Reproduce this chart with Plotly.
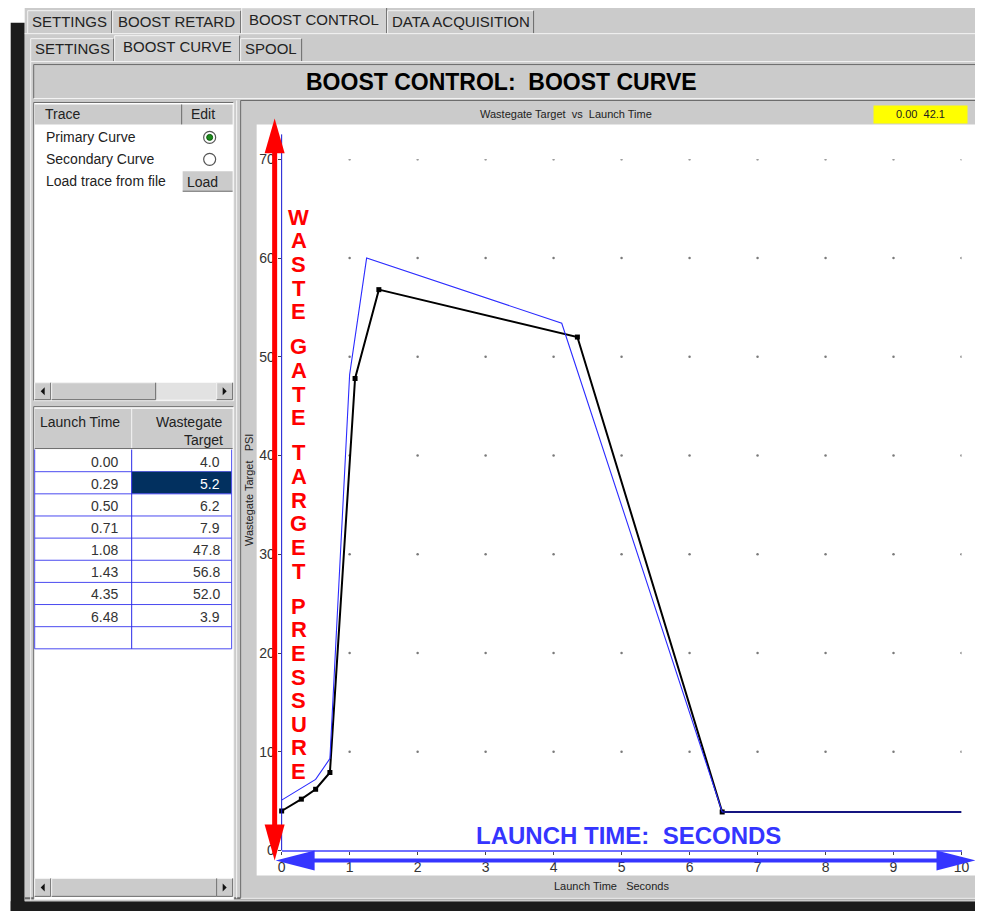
import numpy as np
import plotly.graph_objects as go

# The photographed page is offset and very slightly scaled relative to the
# figure, so layout positions are given in screenshot pixels and mapped back.
SX, BX = 0.988, 11.3
SY, BY = 0.985, 15.3
W, H = 983, 909
UI_FONT = "Liberation Sans, Arial, sans-serif"

# primary curve = the table on the left
launch_time = [0.00, 0.29, 0.50, 0.71, 1.08, 1.43, 4.35, 6.48]
wastegate_target = [4.0, 5.2, 6.2, 7.9, 47.8, 56.8, 52.0, 3.9]

# secondary curve
secondary_time = [0.00, 0.29, 0.50, 0.71, 1.00, 1.25, 4.12, 6.48, 10.0]
secondary_psi = [5.1, 6.3, 7.2, 9.3, 48.2, 60.0, 53.4, 3.9, 3.9]

x_ticks = list(range(0, 11))
y_ticks = list(range(0, 71, 10))

cursor_readout = ["0.00", "42.1"]
selected_row = 1

top_tabs = ["SETTINGS", "BOOST RETARD", "BOOST CONTROL", "DATA ACQUISITION"]
sub_tabs = ["SETTINGS", "BOOST CURVE", "SPOOL"]
trace_rows = ["Primary Curve", "Secondary Curve", "Load trace from file"]
y_arrow_words = ["WASTE", "GATE", "TARGET", "PRESSURE"]
x_arrow_label = "LAUNCH TIME:\u00a0\u00a0SECONDS"

GREY = "#cbcbcb"
DARK = "#6a6a6a"
LIGHT = "#f4f4f4"

shapes, annotations = [], []


def fx(p):
    return (p - BX) / SX / W


def fy(p):
    return 1 - (p - BY) / SY / H


def rect(x0, y0, x1, y1, fill, line=None, width=1, layer="below"):
    shapes.append(dict(type="rect", xref="paper", yref="paper",
                       x0=fx(x0), x1=fx(x1), y0=fy(y1), y1=fy(y0),
                       fillcolor=fill, layer=layer,
                       line=dict(color=line or fill, width=width if line else 0)))


def seg(x0, y0, x1, y1, color, width=1, layer="below"):
    shapes.append(dict(type="line", xref="paper", yref="paper",
                       x0=fx(x0), y0=fy(y0), x1=fx(x1), y1=fy(y1),
                       line=dict(color=color, width=width), layer=layer))


def poly(points, color, layer="above"):
    path = "M " + " L ".join(f"{fx(x):.5f},{fy(y):.5f}" for x, y in points) + " Z"
    shapes.append(dict(type="path", xref="paper", yref="paper", path=path,
                       fillcolor=color, line=dict(color=color, width=0), layer=layer))


def bevel(x0, y0, x1, y1, light=LIGHT, dark=DARK):
    seg(x0, y0, x1, y0, light)
    seg(x0, y0, x0, y1, light)
    seg(x0, y1, x1, y1, dark)
    seg(x1, y0, x1, y1, dark)


def text(x, y, s, size=14, color="#222", xanchor="center", bold=False,
         family=UI_FONT, angle=0):
    annotations.append(dict(xref="paper", yref="paper", x=fx(x), y=fy(y),
                            text=f"<b>{s}</b>" if bold else s, showarrow=False,
                            xanchor=xanchor, yanchor="middle", textangle=angle,
                            font=dict(size=size, color=color, family=family)))


def scrollbar(x0, x1, y0, y1, thumb_end):
    rect(x0, y0, x1, y1, "#e2e2e2")
    for bx0, bx1, left in [(x0, x0 + 16, True), (x1 - 16, x1, False)]:
        rect(bx0, y0, bx1, y1, GREY)
        bevel(bx0, y0, bx1, y1)
        cx, cy = (bx0 + bx1) / 2, (y0 + y1) / 2
        d = -1 if left else 1
        poly([(cx - 2 * d, cy - 4), (cx + 2 * d, cy), (cx - 2 * d, cy + 4)], "#111", layer="below")
    rect(x0 + 17, y0, thumb_end, y1, GREY)
    bevel(x0 + 17, y0, thumb_end, y1)


# ---------- window chrome ----------
rect(10, 22, 24, 915, "#1c1c1c")
rect(10, 903, 990, 915, "#1c1c1c")
rect(24, 5, 990, 903, GREY)
seg(24, 900, 990, 900, DARK, 2)

# top tab row
top_edges = [27, 112, 241, 387, 534]
for i, name in enumerate(top_tabs):
    active = name == "BOOST CONTROL"
    x0, x1 = top_edges[i], top_edges[i + 1] - 1
    y0 = 7 if active else 10
    rect(x0, y0, x1, 33, "#d2d2d2" if active else GREY)
    seg(x0, y0, x1, y0, LIGHT)
    seg(x0, y0, x0, 33, LIGHT)
    seg(x1, y0, x1, 33, DARK)
    text((x0 + x1) / 2, 21 if not active else 19, name, size=15)
seg(24, 33, 990, 33, LIGHT)

# sub tab row
sub_edges = [30, 114, 240, 302]
for i, name in enumerate(sub_tabs):
    active = name == "BOOST CURVE"
    x0, x1 = sub_edges[i], sub_edges[i + 1] - 1
    y0 = 35 if active else 38
    rect(x0, y0, x1, 61, "#d2d2d2" if active else GREY)
    seg(x0, y0, x1, y0, LIGHT)
    seg(x0, y0, x0, 61, LIGHT)
    seg(x1, y0, x1, 61, DARK)
    text((x0 + x1) / 2, 48 if not active else 46, name, size=15)
seg(30, 61, 990, 61, LIGHT)
seg(30, 61, 30, 902, LIGHT)

# header box
rect(33, 64, 980, 98, GREY)
bevel(33, 64, 980, 98, light=DARK, dark=LIGHT)
text(501, 81, "BOOST CONTROL:\u00a0\u00a0BOOST CURVE", size=23, color="#000", bold=True)

# ---------- left panel: trace list ----------
rect(33, 102, 233, 401, "white")
bevel(33, 102, 233, 401, light=DARK, dark=LIGHT)
rect(34, 104, 232, 124, GREY)
seg(181, 104, 181, 124, DARK)
text(42, 114, "Trace", xanchor="left")
text(188, 114, "Edit", xanchor="left")
for i, row in enumerate(trace_rows):
    ry = 137 + 22 * i
    text(43, ry, row, xanchor="left")
    if i < 2:
        shapes.append(dict(type="circle", xref="paper", yref="paper",
                           x0=fx(203), x1=fx(215), y0=fy(ry + 6), y1=fy(ry - 6),
                           fillcolor="white", line=dict(color="#555", width=1.2), layer="below"))
        if i == 0:
            shapes.append(dict(type="circle", xref="paper", yref="paper",
                               x0=fx(206), x1=fx(212), y0=fy(ry + 3), y1=fy(ry - 3),
                               fillcolor="#1c8a1c", line=dict(color="#0a5a0a", width=1), layer="below"))
    else:
        rect(182, ry - 10, 232, ry + 10, GREY)
        seg(182, ry + 10, 232, ry + 10, DARK)
        text(184, ry + 1, "Load", xanchor="left")
scrollbar(34, 232, 383, 400, 155)

# ---------- left panel: table ----------
rect(33, 407, 233, 901, "white")
bevel(33, 407, 233, 901, light=DARK, dark=LIGHT)
rect(34, 409, 232, 449, GREY)
seg(131, 409, 131, 449, LIGHT)
seg(34, 449, 232, 449, DARK)
text(37, 422, "Launch Time", xanchor="left")
text(224, 422, "Wastegate", xanchor="right")
text(224, 440, "Target", xanchor="right")
row_h = 22.2
n_rows = len(launch_time) + 1
for i in range(n_rows):
    r0 = 450 + i * row_h
    if i == selected_row:
        rect(131, r0, 231, r0 + row_h, "#02305f")
    seg(34, r0 + row_h, 231, r0 + row_h, "#4a4af0")
    if i < len(launch_time):
        text(119, r0 + row_h / 2 + 1, f"{launch_time[i]:.2f}", xanchor="right", color="#333")
        text(221, r0 + row_h / 2 + 1, f"{wastegate_target[i]:.1f}",
             xanchor="right", color="white" if i == selected_row else "#333")
seg(131, 450, 131, 450 + n_rows * row_h, "#2a2ae8")
seg(231, 450, 231, 450 + n_rows * row_h, "#4a4af0")
seg(34, 450 + n_rows * row_h, 34, 450, "#4a4af0")
scrollbar(34, 232, 880, 898, 216)

# ---------- chart panel ----------
seg(236, 100, 236, 900, LIGHT)
rect(240, 100, 990, 900, GREY)
bevel(240, 100, 983, 900, light=DARK, dark=LIGHT)
rect(256, 124, 980, 877, "white")
text(565, 114, "Wastegate Target\u00a0\u00a0vs\u00a0\u00a0Launch Time", size=11, color="#222")
rect(873, 105, 967, 123, "#ffff00")
text(920, 114, "\u00a0\u00a0".join(cursor_readout), size=11, color="#222")
text(249, 490, "Wastegate Target\u00a0\u00a0\u00a0PSI", size=11, color="#222", angle=-90)
text(611, 888, "Launch Time\u00a0\u00a0\u00a0Seconds", size=11, color="#222")

# cursor line at the readout position
seg(281, 134, 281, 852, "#1414d2", 1, layer="above")

# red vertical arrow
seg(274, 150, 274, 828, "#ff0000", 5, layer="above")
poly([(274, 118), (264, 153), (284, 153)], "#ff0000")
poly([(274, 862), (264, 826), (284, 826)], "#ff0000")
k = 0
for w, word in enumerate(y_arrow_words):
    for ch in word:
        text(298, 217 + 23.7 * k + 11.5 * w, ch, size=22, color="#ff0000", bold=True)
        k += 1

# blue horizontal arrow
seg(310, 862, 940, 862, "#3535ff", 4, layer="above")
poly([(275, 862), (314, 852), (314, 872)], "#3535ff")
poly([(975, 862), (936, 852), (936, 872)], "#3535ff")
text(628, 837, x_arrow_label, size=24, color="#3535ff", bold=True)

# ---------- traces ----------
fig = go.Figure()
gx, gy = np.meshgrid(x_ticks[1:], y_ticks[1:])
fig.add_trace(go.Scatter(x=gx.ravel(), y=gy.ravel(), mode="markers",
                         marker=dict(size=2.5, color="#7a7a7a"), hoverinfo="skip",
                         showlegend=False))
fig.add_trace(go.Scatter(x=launch_time, y=wastegate_target, mode="lines+markers",
                         line=dict(color="#000", width=2),
                         marker=dict(symbol="square", size=5, color="#000"),
                         cliponaxis=False, showlegend=False))
fig.add_trace(go.Scatter(x=[launch_time[-1], x_ticks[-1]],
                         y=[wastegate_target[-1], wastegate_target[-1]], mode="lines",
                         line=dict(color="#000", width=2), cliponaxis=False, showlegend=False))
fig.add_trace(go.Scatter(x=secondary_time, y=secondary_psi, mode="lines",
                         line=dict(color="#2b2bff", width=1.1), cliponaxis=False,
                         showlegend=False))

fig.update_layout(
    width=W, height=H, margin=dict(l=0, r=0, t=0, b=0),
    paper_bgcolor="white", plot_bgcolor="rgba(0,0,0,0)",
    xaxis=dict(domain=[fx(281), fx(961)], range=[0, 10], tickvals=x_ticks,
               showgrid=False, zeroline=False, showline=True, linecolor="#6f6fff",
               linewidth=2, ticks="outside", ticklen=3, tickcolor="#444",
               tickfont=dict(family=UI_FONT, size=14, color="#333")),
    yaxis=dict(domain=[fy(852), fy(159)], range=[0, 70], tickvals=y_ticks,
               showgrid=False, zeroline=False, showline=False,
               ticks="outside", ticklen=3, tickcolor="#444",
               tickfont=dict(family=UI_FONT, size=14, color="#333")),
    shapes=shapes, annotations=annotations,
)

fig.write_html("out.html")
